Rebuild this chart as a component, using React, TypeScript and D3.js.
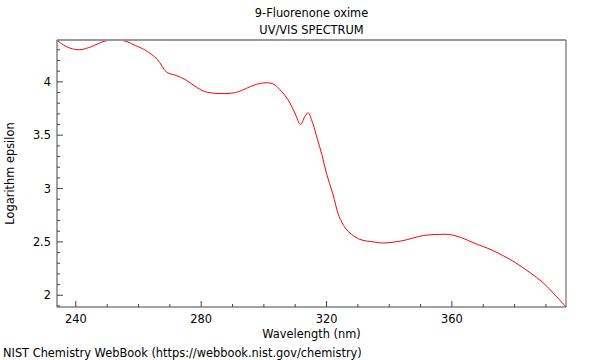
import React from "react";
import * as d3 from "d3";

const wavelengths = [234, 237, 241, 245, 249, 253, 256, 259, 262, 266, 269, 272, 275, 278, 281, 286, 291, 294.5, 297, 300, 303, 305, 308, 310, 311.7, 313, 314.1, 315.5, 317, 318.5, 320, 322, 324, 326, 328, 331, 335, 338, 344, 351, 356, 359, 363, 367, 373, 380, 385, 389, 393, 396.4];
const logEps = [4.39, 4.33, 4.3, 4.33, 4.38, 4.392, 4.38, 4.34, 4.3, 4.21, 4.09, 4.06, 4.02, 3.96, 3.91, 3.89, 3.9, 3.94, 3.97, 3.99, 3.98, 3.93, 3.82, 3.7, 3.6, 3.67, 3.71, 3.62, 3.47, 3.32, 3.14, 2.95, 2.74, 2.63, 2.57, 2.52, 2.5, 2.49, 2.51, 2.56, 2.57, 2.57, 2.54, 2.49, 2.42, 2.31, 2.21, 2.12, 2.0, 1.89];
const xTicks = [240, 280, 320, 360];
const yTicks = [2, 2.5, 3, 3.5, 4];
const titleLines = ["9-Fluorenone oxime", "UV/VIS SPECTRUM"];
const xLabel = "Wavelength (nm)";
const yLabel = "Logarithm epsilon";
const footer = "NIST Chemistry WebBook (https://webbook.nist.gov/chemistry)";

export default function App() {
  const W = 600, H = 360;
  const L = 57, R = 566, T = 40, B = 307;
  const fs = 11.4;
  const x = d3.scaleLinear().domain([234, 396.4]).range([L, R]);
  const y = d3.scaleLinear().domain([1.89, 4.392]).range([B, T]);
  const pts = wavelengths.map((w, i) => [w, logEps[i]] as [number, number]);
  const line = d3.line<[number, number]>().x(d => x(d[0])).y(d => y(d[1])).curve(d3.curveCatmullRom.alpha(0.5));
  const xMinor = d3.range(240, 397, 10);
  const yMinor = d3.range(19, 44).map(v => v / 10);
  const font = "DejaVu Sans, sans-serif";
  return (
    <div style={{ position: "absolute", left: 0, top: 0 }}>
      <svg width={W} height={H} style={{ display: "block" }} fontFamily={font}>
        <rect width={W} height={H} fill="#fff" />
        {titleLines.map((t, i) => (
          <text key={i} x={(L + R) / 2} y={17 + i * 17} textAnchor="middle" fontSize={fs} fill="#000">{t}</text>
        ))}
        <defs>
          <clipPath id="clp"><rect x={L} y={T - 1} width={R - L} height={B - T + 2} /></clipPath>
        </defs>
        <path d={line(pts) || ""} fill="none" stroke="#ff0000" strokeWidth={1} clipPath="url(#clp)" />
        {xMinor.map(v => (
          <line key={"xm" + v} x1={x(v)} x2={x(v)} y1={B} y2={B - (xTicks.includes(v) ? 6 : 3)} stroke="#444" />
        ))}
        {xTicks.map(v => (
          <text key={"xt" + v} x={x(v)} y={B + 15.5} textAnchor="middle" fontSize={fs} fill="#000">{v}</text>
        ))}
        {yMinor.map(v => {
          const major = Math.abs(v * 2 - Math.round(v * 2)) < 1e-6;
          return <line key={"ym" + v} x1={L} x2={L + (major ? 6 : 3)} y1={y(v)} y2={y(v)} stroke="#444" />;
        })}
        {yTicks.map(v => (
          <text key={"yt" + v} x={L - 6} y={y(v) + 4} textAnchor="end" fontSize={fs} fill="#000">{v}</text>
        ))}
        <line x1={L} x2={R} y1={T} y2={T} stroke="#999" strokeWidth={2} />
        <line x1={R} x2={R} y1={T} y2={B} stroke="#555" strokeWidth={1} />
        <line x1={L} x2={L} y1={T} y2={B} stroke="#444" strokeWidth={1} />
        <line x1={L} x2={R} y1={B} y2={B} stroke="#444" strokeWidth={1} />
        <text x={(L + R) / 2} y={337.5} textAnchor="middle" fontSize={fs} fill="#000">{xLabel}</text>
        <text transform={`translate(14,${(T + B) / 2}) rotate(-90)`} textAnchor="middle" fontSize={fs} fill="#000">{yLabel}</text>
        <text x={3} y={357} fontSize={fs} fill="#000">{footer}</text>
      </svg>
    </div>
  );
}
